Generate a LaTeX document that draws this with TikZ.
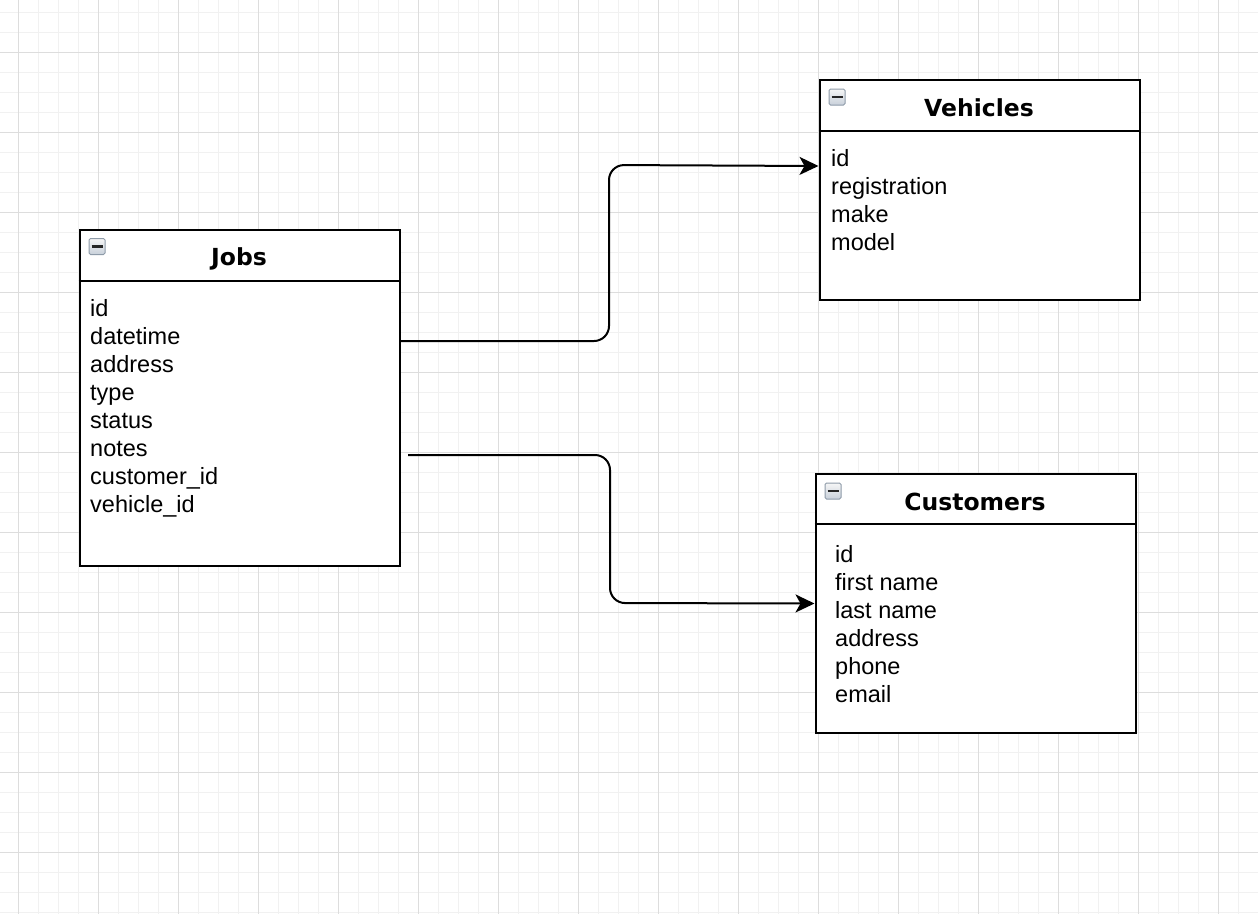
\documentclass[tikz,border=0pt]{standalone}
\usepackage{fontspec}
\setmainfont{Liberation Sans}
\newfontfamily\titlefont{DejaVu Sans}
\usetikzlibrary{arrows.meta}
\definecolor{gridminor}{HTML}{F1F1F1}
\definecolor{gridmajor}{HTML}{DDDDDD}
\definecolor{iconedge}{HTML}{8E9BA9}
\definecolor{icontop}{HTML}{F6F6F6}
\definecolor{iconbot}{HTML}{C8D0DA}
\begin{document}
\begin{tikzpicture}[x=1pt,y=-1pt,
  minorline/.style={draw=gridminor,line width=1pt},
  majorline/.style={draw=gridmajor,line width=1pt},
  tablebox/.style={draw=black,fill=white,line width=2pt,anchor=north west,inner sep=0pt},
  sepline/.style={draw=black,line width=2pt},
  titletext/.style={font=\titlefont\bfseries\fontsize{23.5pt}{28pt}\selectfont,anchor=base,inner sep=0pt},
  fieldtext/.style={font=\fontsize{23.5pt}{28pt}\selectfont,anchor=base west,inner sep=0pt},
  iconbox/.style={draw=iconedge,line width=1pt,top color=icontop,bottom color=iconbot,minimum size=16pt,inner sep=0pt,rounded corners=1.5pt},
  iconbar/.style={draw=black!85,line width=2.5pt},
  conn/.style={draw=black,line width=2pt,rounded corners=15pt,-{Stealth[length=19pt,width=18pt,inset=5pt]}}
]
\fill[white] (0,0) rectangle (1258,914);
\useasboundingbox (0,0) rectangle (1258,914);
% grid
\foreach \x in {18,38,...,1258} \draw[minorline] (\x,0) -- (\x,914);
\foreach \y in {12,32,...,914} \draw[minorline] (0,\y) -- (1258,\y);
\foreach \x in {18,98,...,1258} \draw[majorline] (\x,0) -- (\x,914);
\foreach \y in {52,132,...,914} \draw[majorline] (0,\y) -- (1258,\y);

% Jobs
\node[tablebox,minimum width=320pt,minimum height=336pt] (jobs) at (78.5,228.5) {};
\draw[sepline] ([yshift=-52pt]jobs.north west) -- ([yshift=-52pt]jobs.north east);
\node[titletext] (jobstitle) at (239,265) {Jobs};
\node[iconbox] (jobsicon) at (97,246.5) {};
\draw[iconbar] ([xshift=-5.5pt]jobsicon.center) -- ([xshift=5.5pt]jobsicon.center);
\foreach \t [count=\i from 0] in {id,datetime,address,type,status,notes,customer\_id,vehicle\_id}
  \node[fieldtext] (jobsf\i) at (90,316+28*\i) {\t};

% Vehicles
\node[tablebox,minimum width=320pt,minimum height=220pt] (vehicles) at (818.5,78.5) {};
\draw[sepline] ([yshift=-52pt]vehicles.north west) -- ([yshift=-52pt]vehicles.north east);
\node[titletext] (vehtitle) at (979,116) {Vehicles};
\node[iconbox] (vehicon) at (837,97) {};
\draw[iconbar] ([xshift=-5.5pt]vehicon.center) -- ([xshift=5.5pt]vehicon.center);
\foreach \t [count=\i from 0] in {id,registration,make,model}
  \node[fieldtext] (vehf\i) at (831,166+28*\i) {\t};

% Customers
\node[tablebox,minimum width=320pt,minimum height=259pt] (customers) at (814.5,472.5) {};
\draw[sepline] ([yshift=-51pt]customers.north west) -- ([yshift=-51pt]customers.north east);
\node[titletext] (custtitle) at (975,510) {Customers};
\node[iconbox] (custicon) at (833,491) {};
\draw[iconbar] ([xshift=-5.5pt]custicon.center) -- ([xshift=5.5pt]custicon.center);
\foreach \t [count=\i from 0] in {id,first name,last name,address,phone,email}
  \node[fieldtext] (custf\i) at (835,562+28*\i) {\t};

% connectors
\coordinate (j1) at (401,341);
\coordinate (j2) at (408,455);
\draw[conn] (j1) -- (609,341) -- (609,165) -- ([yshift=23.5pt]vehicles.west);
\draw[conn] (j2) -- (610,455) -- (610,603) -- ([yshift=-0.5pt]customers.west);
\end{tikzpicture}
\end{document}
